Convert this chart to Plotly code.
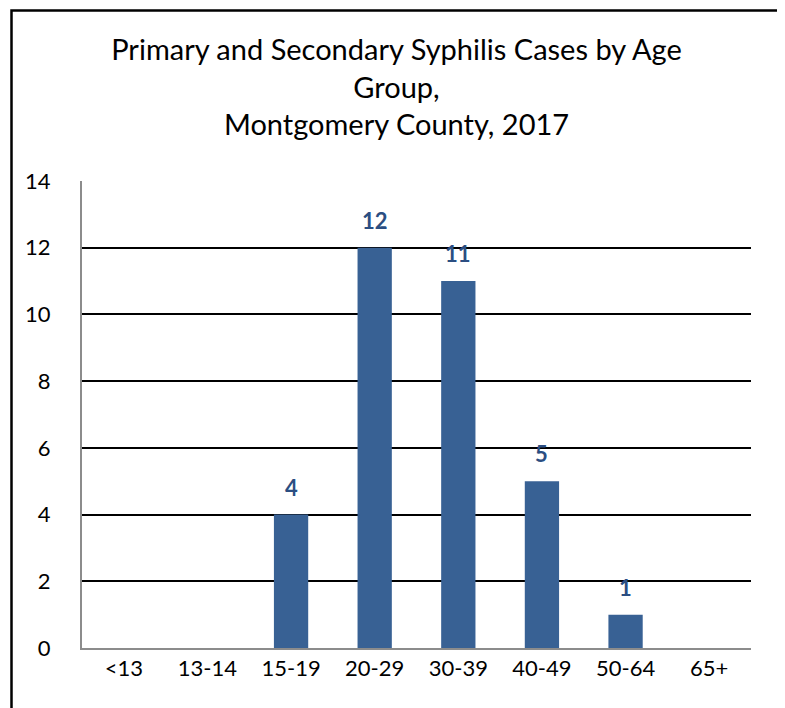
import plotly.graph_objects as go

# age groups and case counts
age_groups = ["<13", "13-14", "15-19", "20-29", "30-39", "40-49", "50-64", "65+"]
cases = [0, 0, 4, 12, 11, 5, 1, 0]
y_ticks = [0, 2, 4, 6, 8, 10, 12, 14]

# the page body adds an 8px margin, so the figure is 8px smaller than the window
W, H = 777, 700
ML, MR, MT, MB = 74, 34, 173, 60
pw = W - ML - MR
ph = H - MT - MB

FONT = "Lato"

fig = go.Figure()

fig.add_trace(go.Bar(
    x=age_groups, y=cases,
    marker=dict(color="#386194", line=dict(width=0)),
    showlegend=False,
))

# value labels above non-zero bars
for g, v in zip(age_groups, cases):
    if v > 0:
        fig.add_annotation(x=g, y=v, text="<b>%d</b>" % v, showarrow=False,
                           yanchor="bottom", yshift=12,
                           font=dict(family=FONT, size=22, color="#2B4E82"))

# outer chart border (pixel box converted to paper coords)
bx0, bx1, by_top, by_bot = 3.5, 772.5, 2.5, H + 5
fig.add_shape(type="rect", xref="paper", yref="paper",
              x0=(bx0 - ML) / pw, x1=(bx1 - ML) / pw,
              y0=(H - MB - by_bot) / ph, y1=(H - MB - by_top) / ph,
              line=dict(color="black", width=2.5), fillcolor="rgba(0,0,0,0)",
              layer="below")

fig.update_layout(
    width=W, height=H,
    margin=dict(l=ML, r=MR, t=MT, b=MB, pad=0),
    paper_bgcolor="white", plot_bgcolor="white",
    bargap=0.59,
    title=dict(text="Primary and Secondary Syphilis Cases by Age<br>Group,<br>Montgomery County, 2017",
               x=0.5, xref="container", xanchor="center",
               y=1 - 52 / H, yref="container", yanchor="top",
               font=dict(family=FONT, size=29, color="black")),
    font=dict(family=FONT, color="black"),
)

fig.update_xaxes(
    showgrid=False, showline=True, linecolor="#8c8c8c", linewidth=2,
    ticks="", tickfont=dict(family=FONT, size=22, color="black"),
)
fig.update_yaxes(
    range=[0, 14], tickvals=y_ticks, showgrid=True, gridcolor="black", gridwidth=1.5,
    showline=True, linecolor="#8c8c8c", linewidth=2, zeroline=False,
    ticks="", ticklabelstandoff=25, tickfont=dict(family=FONT, size=22, color="black"),
)

fig.write_html("out.html")
